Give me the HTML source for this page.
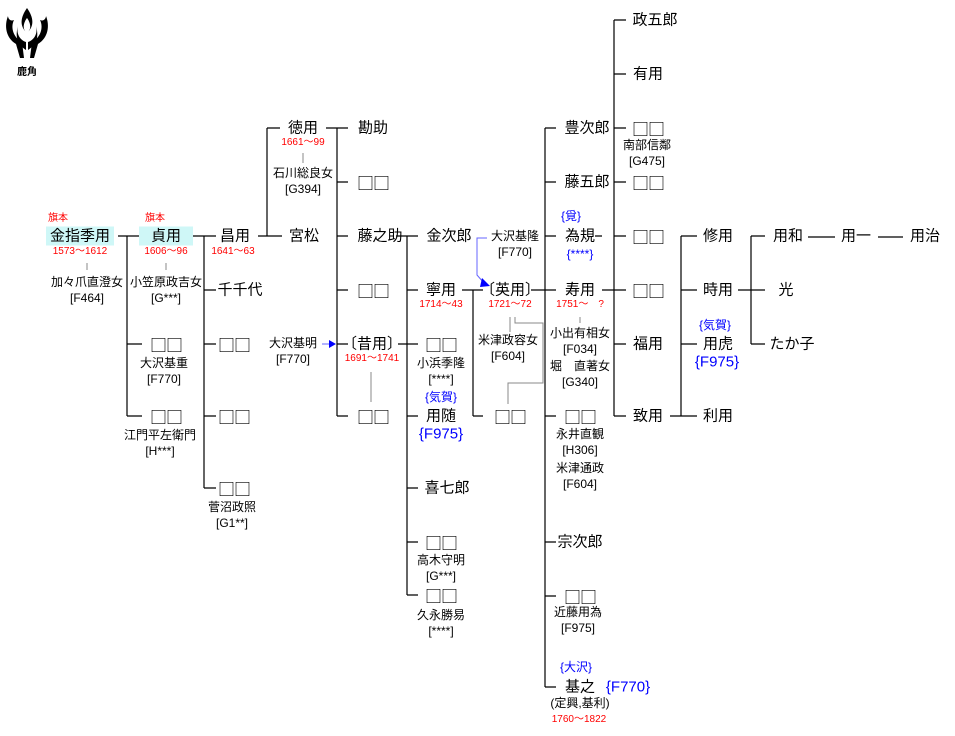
<!DOCTYPE html>
<html><head><meta charset="utf-8"><style>
html,body{margin:0;padding:0;background:#fff;}
#c{position:relative;width:955px;height:736px;overflow:hidden;font-family:"Liberation Sans","Noto Sans CJK JP",sans-serif;color:#000;}
.t{position:absolute;transform:translate(-50%,-50%);white-space:nowrap;font-size:15px;line-height:1;}
.s{font-size:12px;}
.r{font-size:10px;color:#f00;}
.b{color:#00f;}
.q{font-family:"Noto Sans CJK JP","WenQuanYi Zen Hei",sans-serif;font-size:17px;letter-spacing:-1px;}
.bg{background:#cff7f7;padding:2px 4px;}
svg{position:absolute;left:0;top:0;}
</style></head><body><div id="c">
<svg width="955" height="736">
<g stroke="#000" stroke-width="1.2" fill="none">
<path d="M118 236H142M127 236V416M127 344H142M127 416H142"/>
<path d="M190 236H216M204 236V488M204 290H216M204 344H216M204 416H216M204 488H216"/>
<path d="M258 236H282M267 128V236M267 128H280"/>
<path d="M326 128H348M337 128V416M337 182H348M337 236H348M337 290H348M337 344H348M337 416H348"/>
<path d="M398 344H418M407 236V595M396 236H418M407 290H418M407 416H418M407 488H418M407 542H418M407 595H418"/>
<path d="M462 290H483M473 290V416M473 416H483"/>
<path d="M531 290H556M545 128V687M545 128H556M545 182H556M545 236H556M545 416H556M545 542H556M545 596H556M545 687H556"/>
<path d="M595 236H602M602 290H626M614 20V416M614 20H626M614 74H626M614 128H626M614 182H626M614 236H626M614 290H626M614 344H626M614 416H626"/>
<path d="M670 416H697M681 236V416M681 236H697M681 290H697M681 344H697"/>
<path d="M738 290H765M751 236V344M751 236H765M751 344H765"/>
<path d="M808 237H835M878 237H903"/>
</g>
<g stroke="#888" stroke-width="1" fill="none">
<path d="M87 263V270M166 263V270M303 153V163M371 372V402M510 317V332M515 317V323H543V383H508V404M580 317V323"/>
</g>
<g stroke="#66f" stroke-width="1" fill="none"><path d="M487 238H477V275L484 283"/><path d="M322 344H330"/></g>
<path d="M482 278L490 286L480 287Z" fill="#00f"/>
<path d="M329 340L336 344L329 348Z" fill="#00f"/>
<g fill="#000">
<path d="M27 8C20 18 20 26 26 32C22 28 24 22 27 18C30 22 32 28 28 32C34 26 34 18 27 8Z"/>
<path d="M8 16C4 26 6 38 16 44L20 58H24L22 42C14 38 10 28 14 20C10 22 8 18 8 16Z"/>
<path d="M46 16C50 26 48 38 38 44L34 58H30L32 42C40 38 44 28 40 20C44 22 46 18 46 16Z"/>
<path d="M18 26C16 34 20 40 26 42V50C20 46 14 40 18 26ZM36 26C38 34 34 40 28 42V50C34 46 40 40 36 26Z"/>
</g>
</svg>
<div class="t" style="left:27px;top:73px;font-size:10px;font-weight:bold">鹿角</div>

<div class="t r" style="left:58px;top:219px">旗本</div>
<div class="t bg" style="left:80px;top:236px">金指季用</div>
<div class="t r" style="left:80px;top:252px">1573～1612</div>
<div class="t s" style="left:87px;top:282px">加々爪直澄女</div>
<div class="t s" style="left:87px;top:298px">[F464]</div>

<div class="t r" style="left:155px;top:219px">旗本</div>
<div class="t bg" style="left:166px;top:236px;padding:2px 12px">貞用</div>
<div class="t r" style="left:166px;top:252px">1606～96</div>
<div class="t s" style="left:166px;top:282px">小笠原政吉女</div>
<div class="t s" style="left:166px;top:298px">[G***]</div>
<div class="t q" style="left:166px;top:344px">□□</div>
<div class="t s" style="left:164px;top:363px">大沢基重</div>
<div class="t s" style="left:164px;top:379px">[F770]</div>
<div class="t q" style="left:166px;top:416px">□□</div>
<div class="t s" style="left:160px;top:435px">江門平左衛門</div>
<div class="t s" style="left:160px;top:451px">[H***]</div>

<div class="t" style="left:235px;top:236px">昌用</div>
<div class="t r" style="left:233px;top:252px">1641～63</div>
<div class="t" style="left:240px;top:290px">千千代</div>
<div class="t q" style="left:234px;top:344px">□□</div>
<div class="t q" style="left:234px;top:416px">□□</div>
<div class="t q" style="left:234px;top:488px">□□</div>
<div class="t s" style="left:232px;top:507px">菅沼政照</div>
<div class="t s" style="left:232px;top:523px">[G1**]</div>

<div class="t" style="left:304px;top:236px">宮松</div>
<div class="t" style="left:303px;top:128px">徳用</div>
<div class="t r" style="left:303px;top:143px">1661～99</div>
<div class="t s" style="left:303px;top:173px">石川総良女</div>
<div class="t s" style="left:303px;top:189px">[G394]</div>
<div class="t s" style="left:293px;top:343px">大沢基明</div>
<div class="t s" style="left:293px;top:359px">[F770]</div>

<div class="t" style="left:373px;top:128px">勘助</div>
<div class="t q" style="left:373px;top:182px">□□</div>
<div class="t" style="left:380px;top:236px">藤之助</div>
<div class="t q" style="left:373px;top:290px">□□</div>
<div class="t" style="left:372px;top:344px">〔昔用〕</div>
<div class="t r" style="left:372px;top:359px">1691～1741</div>
<div class="t q" style="left:373px;top:416px">□□</div>

<div class="t" style="left:449px;top:236px">金次郎</div>
<div class="t" style="left:441px;top:290px">寧用</div>
<div class="t r" style="left:441px;top:305px">1714～43</div>
<div class="t q" style="left:441px;top:344px">□□</div>
<div class="t s" style="left:441px;top:363px">小浜季隆</div>
<div class="t s" style="left:441px;top:379px">[****]</div>
<div class="t s b" style="left:441px;top:397px">{気賀}</div>
<div class="t" style="left:441px;top:416px">用随</div>
<div class="t b" style="left:441px;top:434px">{F975}</div>
<div class="t" style="left:447px;top:488px">喜七郎</div>
<div class="t q" style="left:441px;top:542px">□□</div>
<div class="t s" style="left:441px;top:560px">高木守明</div>
<div class="t s" style="left:441px;top:576px">[G***]</div>
<div class="t q" style="left:441px;top:595px">□□</div>
<div class="t s" style="left:441px;top:615px">久永勝易</div>
<div class="t s" style="left:441px;top:631px">[****]</div>

<div class="t s" style="left:515px;top:236px">大沢基隆</div>
<div class="t s" style="left:515px;top:252px">[F770]</div>
<div class="t" style="left:510px;top:290px">〔英用〕</div>
<div class="t r" style="left:510px;top:305px">1721～72</div>
<div class="t s" style="left:508px;top:340px">米津政容女</div>
<div class="t s" style="left:508px;top:356px">[F604]</div>
<div class="t q" style="left:510px;top:416px">□□</div>

<div class="t" style="left:587px;top:128px">豊次郎</div>
<div class="t" style="left:587px;top:182px">藤五郎</div>
<div class="t s b" style="left:571px;top:216px">{覓}</div>
<div class="t" style="left:580px;top:236px">為規</div>
<div class="t s b" style="left:580px;top:254px">{****}</div>
<div class="t" style="left:580px;top:290px">寿用</div>
<div class="t r" style="left:580px;top:305px">1751～　?</div>
<div class="t s" style="left:580px;top:333px">小出有相女</div>
<div class="t s" style="left:580px;top:349px">[F034]</div>
<div class="t s" style="left:580px;top:366px">堀　直著女</div>
<div class="t s" style="left:580px;top:382px">[G340]</div>
<div class="t q" style="left:580px;top:416px">□□</div>
<div class="t s" style="left:580px;top:434px">永井直観</div>
<div class="t s" style="left:580px;top:450px">[H306]</div>
<div class="t s" style="left:580px;top:468px">米津通政</div>
<div class="t s" style="left:580px;top:484px">[F604]</div>
<div class="t" style="left:580px;top:542px">宗次郎</div>
<div class="t q" style="left:580px;top:596px">□□</div>
<div class="t s" style="left:578px;top:612px">近藤用為</div>
<div class="t s" style="left:578px;top:628px">[F975]</div>
<div class="t s b" style="left:576px;top:667px">{大沢}</div>
<div class="t" style="left:580px;top:687px">基之</div>
<div class="t b" style="left:628px;top:687px">{F770}</div>
<div class="t s" style="left:580px;top:703px">(定興,基利)</div>
<div class="t r" style="left:579px;top:720px">1760～1822</div>

<div class="t" style="left:655px;top:20px">政五郎</div>
<div class="t" style="left:648px;top:74px">有用</div>
<div class="t q" style="left:648px;top:128px">□□</div>
<div class="t s" style="left:647px;top:145px">南部信鄰</div>
<div class="t s" style="left:647px;top:161px">[G475]</div>
<div class="t q" style="left:648px;top:182px">□□</div>
<div class="t q" style="left:648px;top:236px">□□</div>
<div class="t q" style="left:648px;top:290px">□□</div>
<div class="t" style="left:648px;top:344px">福用</div>
<div class="t" style="left:648px;top:416px">致用</div>

<div class="t" style="left:718px;top:236px">修用</div>
<div class="t" style="left:718px;top:290px">時用</div>
<div class="t s b" style="left:715px;top:325px">{気賀}</div>
<div class="t" style="left:718px;top:344px">用虎</div>
<div class="t b" style="left:717px;top:362px">{F975}</div>
<div class="t" style="left:718px;top:416px">利用</div>

<div class="t" style="left:788px;top:236px">用和</div>
<div class="t" style="left:786px;top:290px">光</div>
<div class="t" style="left:792px;top:344px">たか子</div>
<div class="t" style="left:856px;top:236px">用一</div>
<div class="t" style="left:925px;top:236px">用治</div>
</div></body></html>
